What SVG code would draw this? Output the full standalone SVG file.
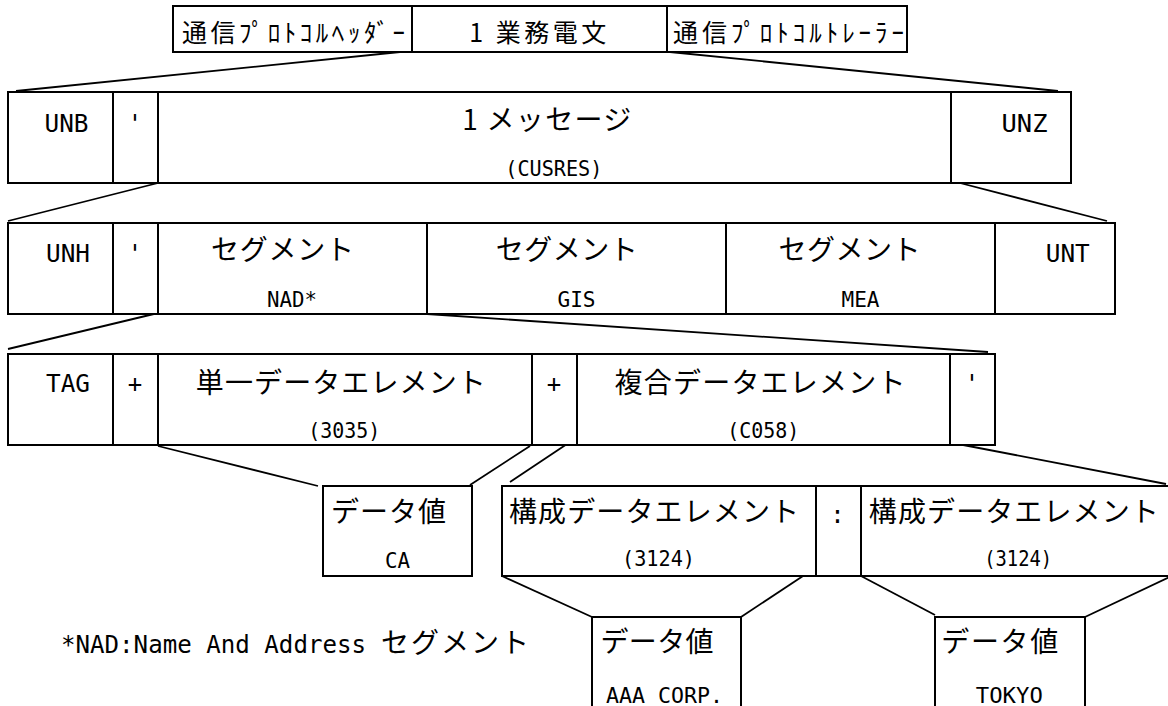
<svg xmlns="http://www.w3.org/2000/svg" width="1168" height="706" viewBox="0 0 1168 706">
<style>
.b{fill:#fff;stroke:#000;stroke-width:2}
.c line{stroke:#000;stroke-width:1.8;fill:none}
text{fill:#000;text-anchor:middle}
.jp{font-family:"Noto Sans CJK JP","Noto Sans CJK SC",sans-serif;font-size:28px}
.hd{font-family:"Noto Sans CJK JP","Noto Sans CJK SC",sans-serif;font-size:25px}
.en{font-family:"DejaVu Sans Mono","Liberation Mono",monospace;font-size:24px}
.sm{font-family:"DejaVu Sans Mono","Liberation Mono",monospace;font-size:21px}
</style>
<rect width="1168" height="706" fill="#fff"/>
<g id="connectors" class="c">
<line x1="400" y1="52" x2="16" y2="91"/>
<line x1="670" y1="52" x2="1058" y2="91"/>
<line x1="158" y1="183" x2="8" y2="221"/>
<line x1="960" y1="183" x2="1107" y2="221"/>
<line x1="158" y1="313" x2="8" y2="349"/>
<line x1="427" y1="314" x2="988" y2="352"/>
<line x1="158" y1="446" x2="318" y2="486"/>
<line x1="530" y1="446" x2="470" y2="485"/>
<line x1="570" y1="442" x2="510" y2="482"/>
<line x1="958" y1="444" x2="1166" y2="484"/>
<line x1="502" y1="576" x2="592" y2="617"/>
<line x1="803" y1="576" x2="741" y2="617"/>
<line x1="861" y1="576" x2="935" y2="615"/>
<line x1="1176" y1="574" x2="1085" y2="617"/>
</g>
<g id="hdr-header"><rect class="b" x="173" y="6" width="239" height="46"/><text class="hd" x="293.5" y="42" textLength="223" lengthAdjust="spacing">通信ﾌﾟﾛﾄｺﾙﾍｯﾀﾞｰ</text></g>
<g id="hdr-body"><rect class="b" x="412" y="6" width="255" height="46"/><text class="hd" x="537.7" y="42" textLength="137" lengthAdjust="spacing">1 業務電文</text></g>
<g id="hdr-trailer"><rect class="b" x="667" y="6" width="240" height="46"/><text class="hd" x="788.5" y="42" textLength="231" lengthAdjust="spacing">通信ﾌﾟﾛﾄｺﾙﾄﾚｰﾗｰ</text></g>

<g id="r2-unb"><rect class="b" x="8" y="92" width="105" height="91"/><text class="en" x="66.5" y="131.5" textLength="44" lengthAdjust="spacingAndGlyphs">UNB</text></g>
<g id="r2-apos"><rect class="b" x="113" y="92" width="45" height="91"/><text class="en" x="135" y="131.5">'</text></g>
<g id="r2-msg"><rect class="b" x="158" y="92" width="793" height="91"/><text class="jp" x="546.7" y="130" textLength="169" lengthAdjust="spacing">1 メッセージ</text><text class="sm" x="553.8" y="176" textLength="97" lengthAdjust="spacingAndGlyphs">(CUSRES)</text></g>
<g id="r2-unz"><rect class="b" x="951" y="92" width="120" height="91"/><text class="en" x="1024.5" y="131.5" textLength="46" lengthAdjust="spacingAndGlyphs">UNZ</text></g>

<g id="r3-unh"><rect class="b" x="8" y="223" width="105" height="91"/><text class="en" x="68" y="261.5" textLength="44" lengthAdjust="spacingAndGlyphs">UNH</text></g>
<g id="r3-apos"><rect class="b" x="113" y="223" width="45" height="91"/><text class="en" x="135" y="261.5">'</text></g>
<g id="r3-nad"><rect class="b" x="158" y="223" width="269" height="91"/><text class="jp" x="282.5" y="260" textLength="143" lengthAdjust="spacing">セグメント</text><text class="sm" x="292" y="306.5" textLength="50" lengthAdjust="spacingAndGlyphs">NAD*</text></g>
<g id="r3-gis"><rect class="b" x="427" y="223" width="299" height="91"/><text class="jp" x="566.7" y="260" textLength="142" lengthAdjust="spacing">セグメント</text><text class="sm" x="576.5" y="306.5" textLength="38" lengthAdjust="spacingAndGlyphs">GIS</text></g>
<g id="r3-mea"><rect class="b" x="726" y="223" width="269" height="91"/><text class="jp" x="849.6" y="260" textLength="142" lengthAdjust="spacing">セグメント</text><text class="sm" x="860.5" y="306.5" textLength="38" lengthAdjust="spacingAndGlyphs">MEA</text></g>
<g id="r3-unt"><rect class="b" x="995" y="223" width="120" height="91"/><text class="en" x="1067.8" y="261.5" textLength="44" lengthAdjust="spacingAndGlyphs">UNT</text></g>

<g id="r4-tag"><rect class="b" x="8" y="354" width="105" height="91"/><text class="en" x="68" y="391.5" textLength="44" lengthAdjust="spacingAndGlyphs">TAG</text></g>
<g id="r4-plus1"><rect class="b" x="113" y="354" width="45" height="91"/><text class="en" x="135" y="391.5">+</text></g>
<g id="r4-simple"><rect class="b" x="158" y="354" width="374" height="91"/><text class="jp" x="340.8" y="393" textLength="290" lengthAdjust="spacing">単一データエレメント</text><text class="sm" x="344.3" y="438" textLength="72" lengthAdjust="spacingAndGlyphs">(3035)</text></g>
<g id="r4-plus2"><rect class="b" x="532" y="354" width="45" height="91"/><text class="en" x="554" y="391.5">+</text></g>
<g id="r4-composite"><rect class="b" x="577" y="354" width="373" height="91"/><text class="jp" x="760" y="393" textLength="291" lengthAdjust="spacing">複合データエレメント</text><text class="sm" x="763.3" y="438" textLength="72" lengthAdjust="spacingAndGlyphs">(C058)</text></g>
<g id="r4-apos"><rect class="b" x="950" y="354" width="45" height="91"/><text class="en" x="972" y="391.5">'</text></g>

<g id="r5-value-ca"><rect class="b" x="323" y="486" width="149" height="90"/><text class="jp" x="388.4" y="521.5" textLength="115" lengthAdjust="spacing">データ値</text><text class="sm" x="397.4" y="568" textLength="25" lengthAdjust="spacingAndGlyphs">CA</text></g>
<g id="r5-comp1"><rect class="b" x="502" y="486" width="314" height="90"/><text class="jp" x="654" y="521.5" textLength="290" lengthAdjust="spacing">構成データエレメント</text><text class="sm" x="658.5" y="566" textLength="73" lengthAdjust="spacingAndGlyphs">(3124)</text></g>
<g id="r5-colon"><rect class="b" x="816" y="486" width="45" height="90"/><text class="en" x="837.5" y="523">:</text></g>
<g id="r5-comp2"><rect class="b" x="861" y="486" width="315" height="90"/><text class="jp" x="1013.8" y="521.5" textLength="290" lengthAdjust="spacing">構成データエレメント</text><text class="sm" x="1018.2" y="566" textLength="68" lengthAdjust="spacingAndGlyphs">(3124)</text></g>

<g id="r6-value-aaa"><rect class="b" x="592" y="617" width="149" height="90"/><text class="jp" x="657" y="651.5" textLength="113" lengthAdjust="spacing">データ値</text><text class="sm" x="664.5" y="703" textLength="117" lengthAdjust="spacingAndGlyphs">AAA CORP.</text></g>
<g id="r6-value-tokyo"><rect class="b" x="935" y="617" width="150" height="90"/><text class="jp" x="999.8" y="651.5" textLength="117" lengthAdjust="spacing">データ値</text><text class="sm" x="1009.3" y="703" textLength="67" lengthAdjust="spacingAndGlyphs">TOKYO</text></g>

<g id="footnote"><text class="en" x="61" y="653" style="text-anchor:start" textLength="305" lengthAdjust="spacingAndGlyphs">*NAD:Name And Address</text><text class="jp" x="381" y="653" style="text-anchor:start" textLength="148" lengthAdjust="spacing">セグメント</text></g>
</svg>
